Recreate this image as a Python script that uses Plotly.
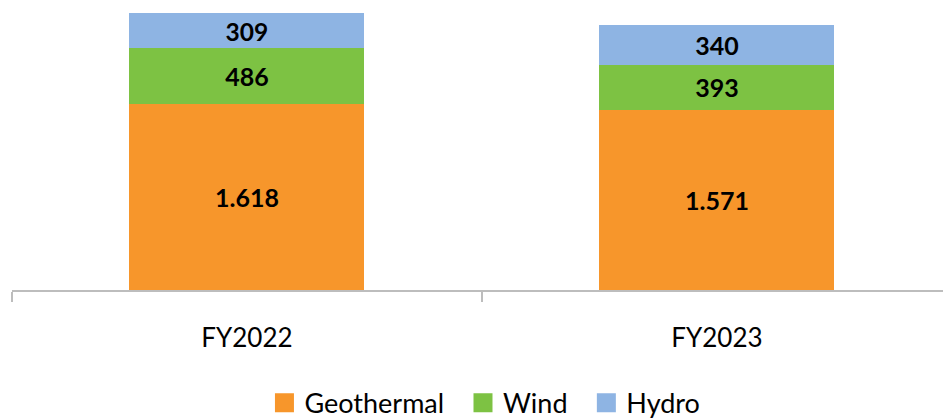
import plotly.graph_objects as go

categories = ["FY2022", "FY2023"]
geothermal = [1618, 1571]
wind = [486, 393]
hydro = [309, 340]

series = [
    ("Geothermal", geothermal, "#F7962B"),
    ("Wind", wind, "#7DC243"),
    ("Hydro", hydro, "#8EB4E3"),
]
legend_pad = ["\u00a0\u00a0", "\u00a0\u00a0", ""]

fig = go.Figure()
for name, vals, color in series:
    fig.add_trace(go.Bar(
        x=categories, y=vals, name=name, marker=dict(color=color, line=dict(width=0)),
        texttemplate="%{y:,d}", textposition="inside", insidetextanchor="middle",
        textangle=0,
        textfont=dict(family="Lato", size=25, color="black", weight="bold"),
        showlegend=False, legendgroup=name, width=0.5,
    ))
for (name, vals, color), pad in zip(series, legend_pad):
    fig.add_trace(go.Scatter(
        x=[None], y=[None], mode="markers", name=name + pad, legendgroup=name,
        marker=dict(symbol="square", size=16, color=color, line=dict(color=color, width=3)),
    ))

fig.update_layout(
    barmode="stack",
    width=943, height=419,
    margin=dict(l=12, r=0, t=0, b=129, autoexpand=False),
    plot_bgcolor="white", paper_bgcolor="white",
    separators=",.",
    font=dict(family="Lato", color="black"),
    uniformtext=dict(mode=False),
    legend=dict(orientation="h", x=0.508, xanchor="center", y=-0.39, yanchor="middle",
                font=dict(size=27, family="Lato", color="black"), itemclick=False,
                tracegroupgap=0),
    xaxis=dict(range=[-0.5, 1.481], showline=True, linecolor="#BDBDBD", linewidth=2,
               ticks="outside", tickson="boundaries", ticklen=10, tickwidth=2,
               tickcolor="#BDBDBD", tickfont=dict(size=26, family="Lato", color="black"),
               ticklabelstandoff=24, showgrid=False, zeroline=False, automargin=False),
    yaxis=dict(range=[0, 2526], visible=False, showgrid=False, zeroline=False),
)

fig.write_html("out.html", config={"displayModeBar": False},
               post_script="document.body.style.margin='0';")
